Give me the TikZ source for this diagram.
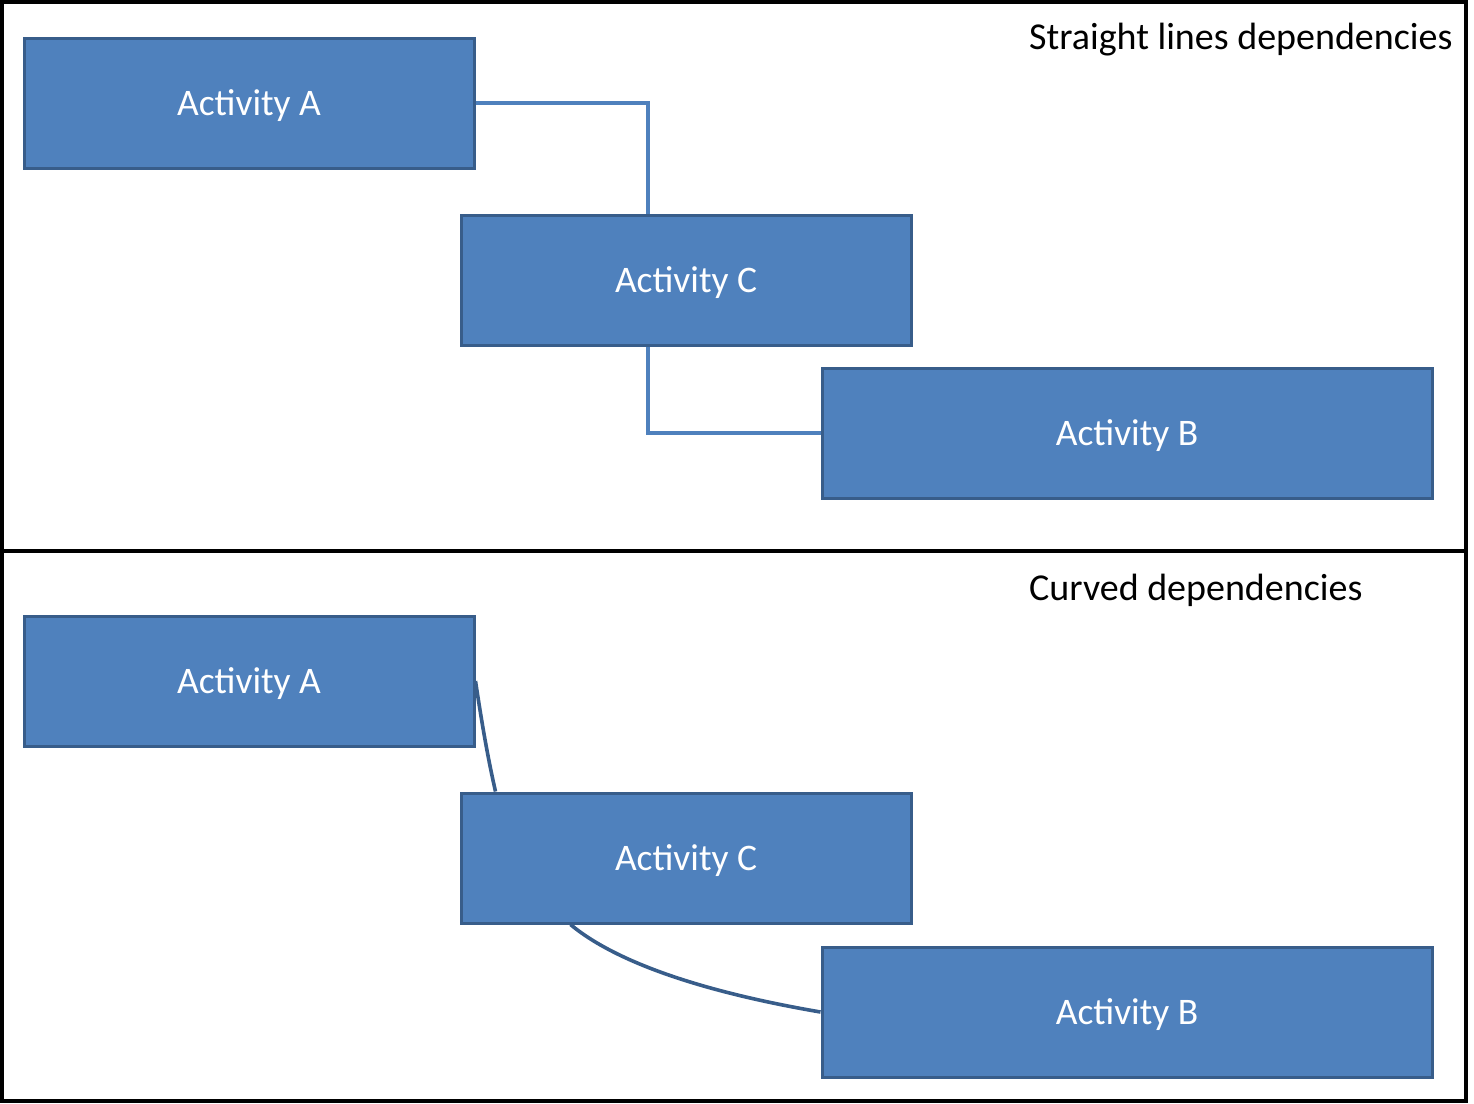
\documentclass[tikz,border=0pt]{standalone}
\usepackage{fontspec}
\setmainfont{Carlito}
\usepackage{tikz}
\usetikzlibrary{
  positioning,%
  calc
}
\definecolor{actfill}{HTML}{4F81BD}
\definecolor{actline}{HTML}{385D8A}
\tikzset{>=latex}
\tikzset{activity/.style={rectangle, draw=actline, fill=actfill, line width=3pt,
    minimum width=450pt, minimum height=130pt, inner sep=0pt, text depth=0pt,
    text=white, font=\fontsize{37.5}{44}\selectfont}}
\tikzset{wideactivity/.style={activity, minimum width=610pt}}
\tikzset{elbowdep/.style={draw=actfill, line width=4pt}}
\tikzset{curvedep/.style={draw=actline, line width=3.6pt}}
\tikzset{caption/.style={font=\fontsize{38}{44}\selectfont, inner sep=0pt}}

\begin{document}
\begin{tikzpicture}[x=1pt, y=-1pt]
  \useasboundingbox (0,0) rectangle (1474,1103);
  % frame and divider
  \draw[line width=4pt] (2,2) rectangle (1466,1101);
  \draw[line width=4pt] (2,551) -- (1466,551);

  % straight lines
  \node[caption, anchor=base west] (capstraight) at (1029,49) {Straight lines dependencies};
  \node[activity] (actA) at (249,103) {Activity A};
  \node[activity] (actC) at (686,280) {Activity C};
  \node[wideactivity] (actB) at (1127,433) {Activity B};
  \coordinate (elbowA) at ($(actC.north west)+(188,0)$);
  \draw[elbowdep] (actA.east) -| (elbowA);
  \draw[elbowdep] (elbowA |- actC.south) |- (actB.west);

  % curved
  \node[caption, anchor=base west] (capcurved) at (1029,600) {Curved dependencies};
  \node[activity] (actAc) at (249,681) {Activity A};
  \node[activity] (actCc) at (686,858) {Activity C};
  \node[wideactivity] (actBc) at (1127,1012) {Activity B};
  \coordinate (inC) at ($(actCc.north west)+(36,0)$);
  \coordinate (outC) at ($(actCc.south west)+(111,0)$);
  \draw[curvedep] (actAc.east) .. controls +(6,40) and +(-8,-35) .. (inC);
  \draw[curvedep] (outC) .. controls +(60,50) and +(-70,-12) .. (actBc.west);
\end{tikzpicture}
\end{document}
